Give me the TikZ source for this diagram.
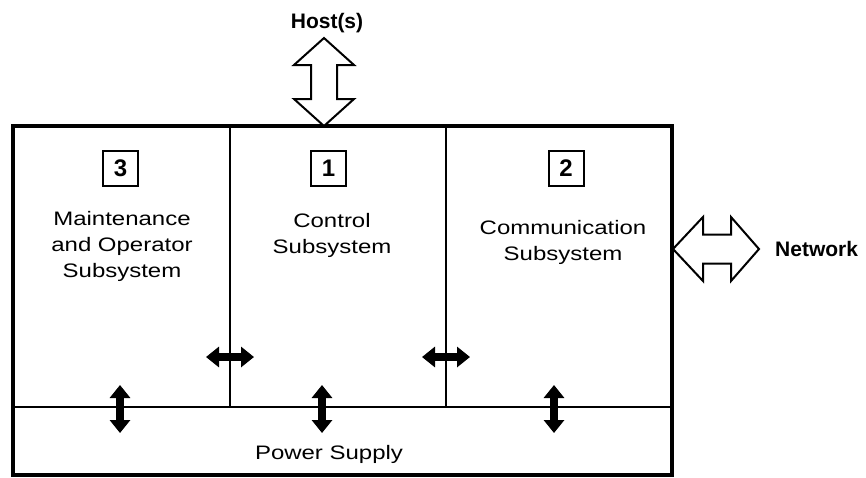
\documentclass[tikz,border=0pt]{standalone}
\usepackage{fontspec}
\setmainfont{Liberation Sans}
\newfontfamily\widesans[FakeStretch=1.23]{Liberation Sans}
\usetikzlibrary{
	positioning,
	arrows.meta
}

\begin{document}
\begin{tikzpicture}[x=1pt, y=-1pt,
		panel/.style={draw, line width=1.6pt, inner sep=0pt, outer sep=0pt, minimum height=281pt},
		frame/.style={draw, line width=3.5pt, line join=miter},
		numbox/.style={draw, line width=2pt, minimum size=35pt, inner sep=0pt, font=\fontsize{24}{24}\selectfont\bfseries},
		sublabel/.style={align=center, font=\widesans\fontsize{19.5}{26}\selectfont},
		outerlabel/.style={inner sep=0pt, font=\fontsize{21}{21}\selectfont\bfseries},
		hollow/.style={draw, line width=2pt, line join=miter, fill=white},
		link/.style={line width=8pt, {Triangle[width=20pt,length=13pt]}-{Triangle[width=20pt,length=13pt]}}
	]
	\useasboundingbox (0,0) rectangle (866,477);

	% panels
	\node[panel, minimum width=217pt] (maint) at (121.5,266.5) {};
	\node[panel, minimum width=216pt] (ctrl) at (338,266.5) {};
	\node[panel, minimum width=226pt] (comm) at (559,266.5) {};
	\node[panel, minimum width=659pt, minimum height=68pt] (power) at (342.5,441) {};
	\draw[frame] (maint.north west) rectangle (power.south east);

	% numbers and names
	\node[numbox] (n3) at (120.5,168) {3};
	\node[numbox] (n1) at (328.5,168) {1};
	\node[numbox] (n2) at (566,168) {2};
	\node[sublabel] (maintlabel) at (122,246) {Maintenance\\and Operator\\Subsystem};
	\node[sublabel] (ctrllabel) at (332,235) {Control\\Subsystem};
	\node[sublabel] (commlabel) at (563,242) {Communication\\Subsystem};
	\node[sublabel] (powerlabel) at (329,454) {Power Supply};

	% host
	\coordinate (hosttip) at (324,38);
	\coordinate (hostfoot) at (324,126);
	\node[outerlabel, above=5pt of hosttip, xshift=3pt] (host) {Host(s)};
	\draw[hollow] (hosttip) -- ++(30,27) -- ++(-17,0) -- ++(0,34) -- ++(17,0) -- (hostfoot)
		-- ++(-30,-27) -- ++(17,0) -- ++(0,-34) -- ++(-17,0) -- cycle;

	% network
	\coordinate (nettip) at (673,249);
	\coordinate (netend) at (759,249);
	\node[outerlabel, right=16pt of netend] (net) {Network};
	\draw[hollow] (nettip) -- ++(30,-32) -- ++(0,17.5) -- ++(28,0) -- ++(0,-17.5) -- (netend)
		-- ++(-28,32) -- ++(0,-17.5) -- ++(-28,0) -- ++(0,17.5) -- cycle;

	% links between subsystems
	\coordinate (ml) at (206,357);
	\coordinate (cl) at (254,357);
	\coordinate (cr) at (422,357);
	\coordinate (kr) at (470,357);
	\draw[link] (ml) -- (cl);
	\draw[link] (cr) -- (kr);

	% links to the power supply
	\coordinate (mtop) at (120,385);
	\coordinate (mbot) at (120,433);
	\coordinate (ctop) at (322,385);
	\coordinate (cbot) at (322,433);
	\coordinate (ktop) at (554,385);
	\coordinate (kbot) at (554,433);
	\draw[link] (mtop) -- (mbot);
	\draw[link] (ctop) -- (cbot);
	\draw[link] (ktop) -- (kbot);
\end{tikzpicture}
\end{document}
